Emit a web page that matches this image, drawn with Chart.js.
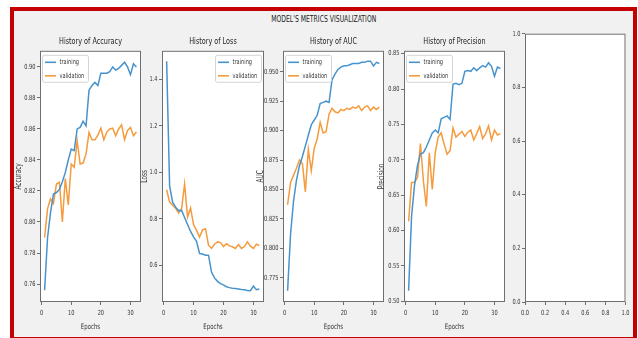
<!DOCTYPE html>
<html><head><meta charset="utf-8">
<script src="https://cdn.jsdelivr.net/npm/chart.js@4.4.0/dist/chart.umd.min.js"></script>
<style>
html,body{margin:0;padding:0;background:#fff;}
body{width:638px;height:338px;position:relative;overflow:hidden;}
#frame{position:absolute;left:10px;top:7px;width:619px;height:326px;border:4px solid #c40000;background:#f1f1f1;}
#sup{position:absolute;left:0;width:648px;top:14px;text-align:center;font-family:'Liberation Sans Narrow','DejaVu Sans Condensed','Roboto Condensed',sans-serif;font-size:8.5px;color:#222;}
#sup span{display:inline-block;transform:scaleX(0.8);transform-origin:center;}
canvas{position:absolute;top:28px;}
</style></head>
<body>
<div id="frame"></div>
<div id="sup"><span>MODEL'S METRICS VISUALIZATION</span></div>
<canvas id="c1" width="149" height="310" style="left:0px"></canvas>
<canvas id="c2" width="150" height="310" style="left:122px"></canvas>
<canvas id="c3" width="149" height="310" style="left:243px"></canvas>
<canvas id="c4" width="149" height="310" style="left:364px"></canvas>
<canvas id="c5" width="149" height="310" style="left:485px"></canvas>
<script>
const epochs = [1,2,3,4,5,6,7,8,9,10,11,12,13,14,15,16,17,18,19,20,21,22,23,24,25,26,27,28,29,30,31,32];
const accTrain = [0.756,0.790,0.806,0.818,0.819,0.821,0.826,0.832,0.840,0.847,0.846,0.860,0.861,0.865,0.862,0.885,0.888,0.890,0.888,0.896,0.896,0.896,0.897,0.900,0.898,0.899,0.901,0.903,0.900,0.895,0.902,0.900];
const accVal = [0.790,0.8085,0.815,0.812,0.8245,0.8256,0.800,0.828,0.811,0.8374,0.8353,0.8524,0.8374,0.838,0.844,0.8578,0.853,0.853,0.856,0.8606,0.853,0.858,0.860,0.8605,0.8556,0.860,0.8627,0.853,0.859,0.861,0.8556,0.858];
const lossTrain = [1.479,0.940,0.871,0.850,0.835,0.836,0.805,0.775,0.745,0.722,0.703,0.650,0.648,0.643,0.643,0.570,0.545,0.530,0.520,0.515,0.507,0.503,0.500,0.499,0.497,0.495,0.494,0.491,0.490,0.510,0.494,0.497];
const lossVal = [0.925,0.872,0.858,0.845,0.825,0.843,0.950,0.807,0.846,0.775,0.750,0.721,0.752,0.757,0.686,0.672,0.690,0.700,0.697,0.680,0.692,0.683,0.679,0.672,0.689,0.672,0.680,0.700,0.682,0.672,0.690,0.684];
const aucTrain = [0.764,0.812,0.840,0.858,0.870,0.878,0.887,0.896,0.905,0.909,0.913,0.923,0.924,0.925,0.924,0.943,0.948,0.952,0.954,0.955,0.955,0.956,0.957,0.957,0.957,0.958,0.958,0.959,0.959,0.955,0.958,0.957];
const aucVal = [0.837,0.856,0.862,0.868,0.875,0.872,0.848,0.884,0.866,0.885,0.893,0.907,0.898,0.899,0.914,0.919,0.916,0.915,0.918,0.917,0.919,0.918,0.920,0.919,0.921,0.917,0.920,0.921,0.917,0.920,0.918,0.920];
const precTrain = [0.515,0.620,0.664,0.692,0.708,0.710,0.718,0.728,0.738,0.742,0.738,0.758,0.760,0.762,0.757,0.807,0.808,0.806,0.808,0.825,0.826,0.825,0.830,0.826,0.830,0.833,0.831,0.837,0.832,0.818,0.831,0.829];
const precVal = [0.613,0.668,0.668,0.675,0.723,0.670,0.634,0.710,0.658,0.710,0.732,0.738,0.722,0.708,0.713,0.745,0.732,0.736,0.740,0.733,0.739,0.742,0.728,0.737,0.747,0.730,0.737,0.748,0.728,0.742,0.735,0.737];

const epochTicks = [0,10,20,30];
const accTicks = [0.76,0.78,0.80,0.82,0.84,0.86,0.88,0.90];
const lossTicks = [0.6,0.8,1.0,1.2,1.4];
const aucTicks = [0.775,0.800,0.825,0.850,0.875,0.900,0.925,0.950];
const precTicks = [0.50,0.55,0.60,0.65,0.70,0.75,0.80,0.85];
const unitTicks = [0.0,0.2,0.4,0.6,0.8,1.0];
const seriesLabels = ['training','validation'];

const FONT = "'Liberation Sans Narrow','DejaVu Sans Condensed','Roboto Condensed',sans-serif";
const BLUE = '#4793cd';
const ORANGE = '#f59b3d';
const SPINE = '#6f6f6f';

// narrow the drawn text horizontally (the reference uses a condensed look)
const SQ = 0.8;
const _fillText = CanvasRenderingContext2D.prototype.fillText;
CanvasRenderingContext2D.prototype.fillText = function(t, x, y, mw){
  this.save(); this.translate(x, y); this.scale(SQ, 1);
  if (mw === undefined || mw === null || isNaN(mw)) _fillText.call(this, t, 0, 0);
  else _fillText.call(this, t, 0, 0, mw / SQ);
  this.restore();
};

const bgPlugin = {
  id:'plotBg',
  beforeDraw(chart){
    const a = chart.chartArea, c = chart.ctx;
    c.save(); c.fillStyle = '#ffffff';
    c.fillRect(a.left, a.top, a.right-a.left, a.bottom-a.top);
    c.restore();
  }
};
const spinePlugin = {
  id:'spines',
  afterDatasetsDraw(chart){
    const a = chart.chartArea, c = chart.ctx;
    c.save(); c.strokeStyle = SPINE; c.lineWidth = 1;
    c.strokeRect(a.left+0.5, a.top+0.5, a.right-a.left-1, a.bottom-a.top-1);
    c.restore();
  }
};
const legendPlugin = {
  id:'insideLegend',
  afterDraw(chart, args, opts){
    const ds = chart.data.datasets;
    if (!ds.length) return;
    const a = chart.chartArea, c = chart.ctx;
    const w = 46, h = 27;
    const x = opts.pos === 'right' ? a.right - 2.5 - w : a.left + 2.5;
    const y = a.top + 4.5;
    c.save();
    c.beginPath();
    if (c.roundRect) c.roundRect(x, y, w, h, 2); else c.rect(x, y, w, h);
    c.fillStyle = 'rgba(255,255,255,0.85)'; c.fill();
    c.strokeStyle = '#d4d4d4'; c.lineWidth = 1; c.stroke();
    ds.forEach((d, i) => {
      const ly = y + 7 + i * 13.5;
      c.beginPath(); c.strokeStyle = d.borderColor; c.lineWidth = 1.6;
      c.moveTo(x + 2.5, ly); c.lineTo(x + 13.5, ly); c.stroke();
      c.fillStyle = '#333'; c.font = '7px ' + FONT; c.textBaseline = 'middle'; c.textAlign = 'left';
      c.fillText(d.label, x + 17, ly);
    });
    c.restore();
  }
};

function makeChart(id, cfg){
  const ds = [];
  if (cfg.train) {
    ds.push({label: seriesLabels[0], data: epochs.map((e,i)=>({x:e, y:cfg.train[i]})), borderColor: BLUE, borderWidth:1.5, pointRadius:0, tension:0, fill:false});
    ds.push({label: seriesLabels[1], data: epochs.map((e,i)=>({x:e, y:cfg.val[i]})), borderColor: ORANGE, borderWidth:1.5, pointRadius:0, tension:0, fill:false});
  }
  const tickFont = {family: FONT, size: 7};
  const gridOpt = {display:true, drawOnChartArea:false, drawTicks:true, tickLength:3, color:SPINE, lineWidth:1};
  return new Chart(document.getElementById(id), {
    type:'line',
    data:{datasets: ds},
    options:{
      responsive:false, animation:false, devicePixelRatio:1,
      layout:{padding:{left:0, right:8, top:0, bottom:0}},
      plugins:{
        legend:{display:false}, tooltip:{enabled:false},
        title:{display:!!cfg.title, fullSize:false, text:cfg.title, color:'#222', font:{family:FONT, size:9, weight:'normal'}, padding:{top:8, bottom:4}},
        insideLegend:{pos: cfg.legendPos}
      },
      scales:{
        x:{
          type:'linear', min:cfg.xMin, max:cfg.xMax,
          afterBuildTicks: s => { s.ticks = cfg.xTicks.map(v => ({value:v})); },
          afterFit: s => { s.height = 36; },
          ticks:{font:tickFont, color:'#333', padding:3.5, maxRotation:0, autoSkip:false, callback: v => Number(v).toFixed(cfg.xDec)},
          grid: gridOpt, border:{display:false},
          title:{display:!!cfg.xTitle, text:cfg.xTitle, color:'#333', font:{family:FONT, size:7.5}, padding:{top:0, bottom:6.5}}
        },
        y:{
          type:'linear', min:cfg.yMin, max:cfg.yMax,
          afterBuildTicks: s => { s.ticks = cfg.yTicks.map(v => ({value:v})); },
          afterFit: s => { s.width = 40; },
          ticks:{font:tickFont, color:'#333', padding:1.5, autoSkip:false, callback: v => Number(v).toFixed(cfg.yDec)},
          grid: gridOpt, border:{display:false},
          title:{display:!!cfg.yTitle, text:cfg.yTitle, color:'#333', font:{family:FONT, size:8}, padding:{top:cfg.yTitlePad, bottom:0}}
        }
      }
    },
    plugins:[bgPlugin, spinePlugin, legendPlugin]
  });
}

makeChart('c1', {title:'History of Accuracy', yTitle:'Accuracy', xTitle:'Epochs', train:accTrain, val:accVal,
  xMin:-0.55, xMax:33.55, xTicks:epochTicks, xDec:0, yMin:0.7484, yMax:0.9104, yTicks:accTicks, yDec:2, legendPos:'left', yTitlePad:14.2});
makeChart('c2', {title:'History of Loss', yTitle:'Loss', xTitle:'Epochs', train:lossTrain, val:lossVal,
  xMin:-0.55, xMax:33.55, xTicks:epochTicks, xDec:0, yMin:0.441, yMax:1.524, yTicks:lossTicks, yDec:1, legendPos:'right', yTitlePad:18.2});
makeChart('c3', {title:'History of AUC', yTitle:'AUC', xTitle:'Epochs', train:aucTrain, val:aucVal,
  xMin:-0.55, xMax:33.55, xTicks:epochTicks, xDec:0, yMin:0.7544, yMax:0.9678, yTicks:aucTicks, yDec:3, legendPos:'left', yTitlePad:13.2});
makeChart('c4', {title:'History of Precision', yTitle:'Precision', xTitle:'Epochs', train:precTrain, val:precVal,
  xMin:-0.55, xMax:33.55, xTicks:epochTicks, xDec:0, yMin:0.499, yMax:0.854, yTicks:precTicks, yDec:2, legendPos:'left', yTitlePad:13.2});
makeChart('c5', {title:'', yTitle:'', xTitle:'', train:null, val:null,
  xMin:0, xMax:1, xTicks:unitTicks, xDec:1, yMin:0, yMax:1, yTicks:unitTicks, yDec:1, legendPos:'left', yTitlePad:0});
</script>
</body></html>
